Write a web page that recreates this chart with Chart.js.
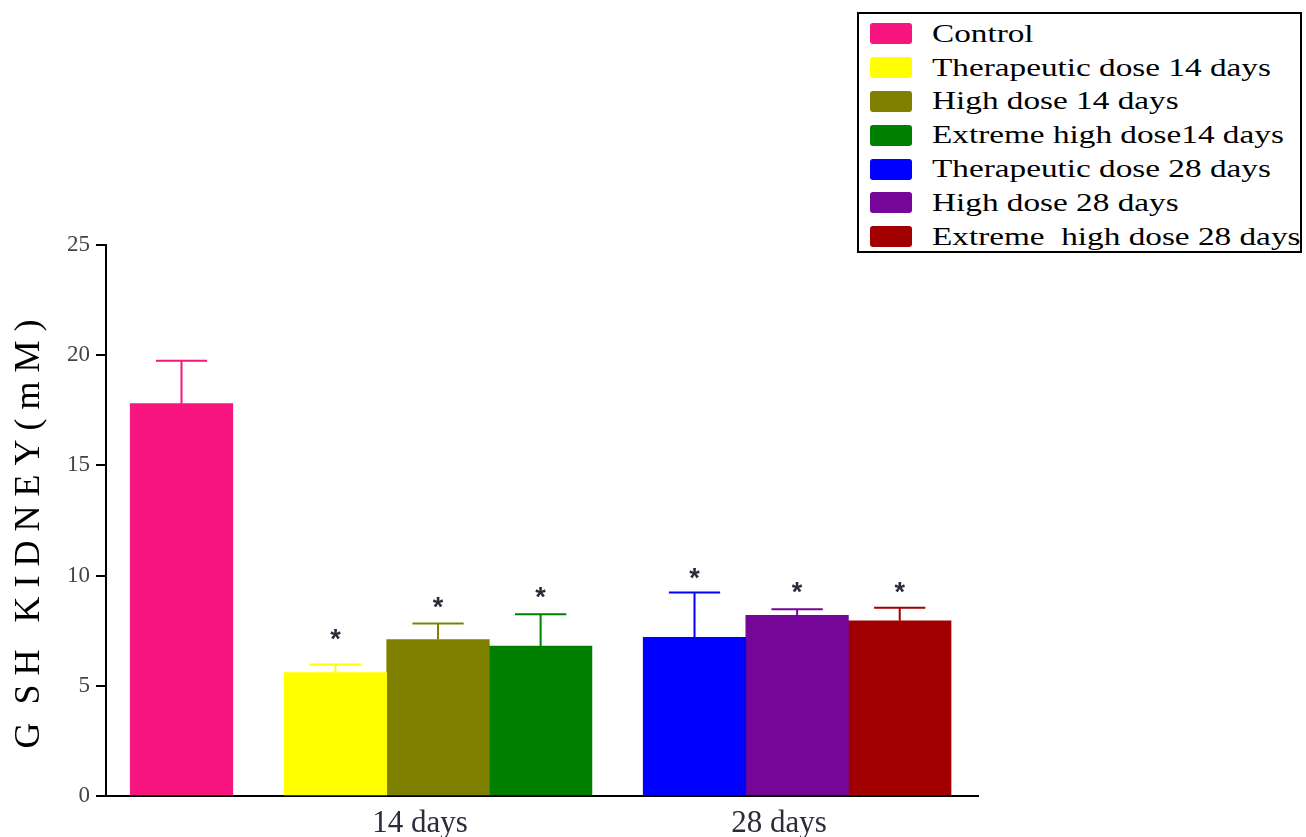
<!DOCTYPE html>
<html>
<head>
<meta charset="utf-8">
<title>GSH kidney</title>
<script src="https://cdn.jsdelivr.net/npm/chart.js@4.4.1/dist/chart.umd.min.js"></script>
<style>
  html, body { margin: 0; padding: 0; background: #fff; }
  #wrap { position: relative; width: 1306px; height: 837px; }
  #legend {
    position: absolute; left: 857px; top: 12px;
    width: 445px; height: 241px; box-sizing: border-box;
    border: 2px solid #000; padding-top: 3px; background: #fff;
    font-family: "Liberation Serif", "Times New Roman", serif;
  }
  .row { display: flex; align-items: center; height: 33.8px; }
  .swatch { width: 42px; height: 21px; margin-left: 11px; border-radius: 3px; flex: none; }
  .txt {
    margin-left: 20px; font-size: 25px; color: #000; white-space: pre;
    display: inline-block; transform: scaleX(1.33); transform-origin: left center;
  }
</style>
</head>
<body>
<div id="wrap">
  <canvas id="chart" width="1306" height="837"></canvas>
  <div id="legend"></div>
</div>
<script>
// data
const groupLabels = ["14 days", "28 days"];
const seriesLabels = [
  "Control",
  "Therapeutic dose 14 days",
  "High dose 14 days",
  "Extreme high dose14 days",
  "Therapeutic dose 28 days",
  "High dose 28 days",
  "Extreme  high dose 28 days"
];
const meanValues = [17.8, 5.6, 7.1, 6.8, 7.2, 8.2, 7.95];
const errorValues = [1.95, 0.37, 0.73, 1.45, 2.03, 0.27, 0.59];
const significance = ["", "*", "*", "*", "*", "*", "*"];
const starLevels = [null, 7.4, 8.85, 9.3, 10.2, 9.55, 9.55];
const yTicks = [0, 5, 10, 15, 20, 25];

// layout: where each bar sits on the x axis (in bar widths)
const barSlots = [0, 1.5, 2.5, 3.5, 5, 6, 7];
const groupCenters = [2.5, 6];
const barColors = ["#F7157F", "#FFFF00", "#808000", "#008000", "#0000FF", "#760697", "#A20000"];

const serif = "'Liberation Serif', 'Times New Roman', serif";
const starSize = 27;

// legend box
const legendEl = document.getElementById("legend");
seriesLabels.forEach((label, i) => {
  const row = document.createElement("div");
  row.className = "row";
  const sw = document.createElement("span");
  sw.className = "swatch";
  sw.style.background = barColors[i];
  const tx = document.createElement("span");
  tx.className = "txt";
  tx.textContent = label;
  row.appendChild(sw);
  row.appendChild(tx);
  legendEl.appendChild(row);
});

const errorBarPlugin = {
  id: "errorBars",
  afterDatasetsDraw(chart) {
    const { ctx } = chart;
    const y = chart.scales.y;
    ctx.save();
    chart.data.datasets.forEach((ds, i) => {
      const bar = chart.getDatasetMeta(i).data[0];
      const top = y.getPixelForValue(meanValues[i] + errorValues[i]);
      const half = bar.width / 4;
      ctx.strokeStyle = barColors[i];
      ctx.lineWidth = 2;
      ctx.beginPath();
      ctx.moveTo(bar.x, bar.y);
      ctx.lineTo(bar.x, top);
      ctx.moveTo(bar.x - half, top);
      ctx.lineTo(bar.x + half, top);
      ctx.stroke();

      if (significance[i]) {
        ctx.fillStyle = "#2b2b3a";
        ctx.font = "bold " + starSize + "px 'Liberation Sans', Arial, sans-serif";
        ctx.textAlign = "center";
        ctx.textBaseline = "alphabetic";
        ctx.fillText(significance[i], bar.x, y.getPixelForValue(starLevels[i]) + 0.57 * starSize);
      }
    });
    ctx.restore();
  }
};

const datasets = seriesLabels.map((label, i) => ({
  label: label,
  data: [{ x: barSlots[i], y: meanValues[i] }],
  backgroundColor: barColors[i],
  borderWidth: 0,
  grouped: false,
  categoryPercentage: 1,
  barPercentage: 1
}));

new Chart(document.getElementById("chart"), {
  type: "bar",
  data: { datasets: datasets },
  options: {
    responsive: false,
    animation: false,
    layout: { padding: { top: 245, right: 328, bottom: 0, left: 0 } },
    plugins: {
      legend: { display: false },
      tooltip: { enabled: false }
    },
    scales: {
      x: {
        type: "linear",
        offset: false,
        min: -0.736,
        max: 7.763,
        grid: { display: false, offset: false },
        border: { color: "#000", width: 2 },
        afterBuildTicks: (scale) => {
          scale.ticks = groupCenters.map((v) => ({ value: v }));
        },
        afterFit: (scale) => { scale.height = 41; },
        ticks: {
          autoSkip: false,
          maxRotation: 0,
          labelOffset: -18,
          padding: 1,
          color: "#2b2b3a",
          font: { family: serif, size: 31 },
          callback: (value, index) => groupLabels[index]
        }
      },
      y: {
        min: 0,
        max: 25,
        afterBuildTicks: (scale) => {
          scale.ticks = yTicks.map((v) => ({ value: v }));
        },
        afterFit: (scale) => { scale.width = 106; },
        grid: { drawOnChartArea: false, tickLength: 10, color: "#000", lineWidth: 2 },
        border: { color: "#000", width: 2 },
        ticks: {
          padding: 6,
          color: "#444",
          font: { family: serif, size: 23 }
        },
        title: {
          display: true,
          text: "G  S H   K I D N E Y ( m M )   ",
          color: "#000",
          font: { family: serif, size: 36 },
          padding: { top: 8, bottom: 0 }
        }
      }
    }
  },
  plugins: [errorBarPlugin]
});
</script>
</body>
</html>
